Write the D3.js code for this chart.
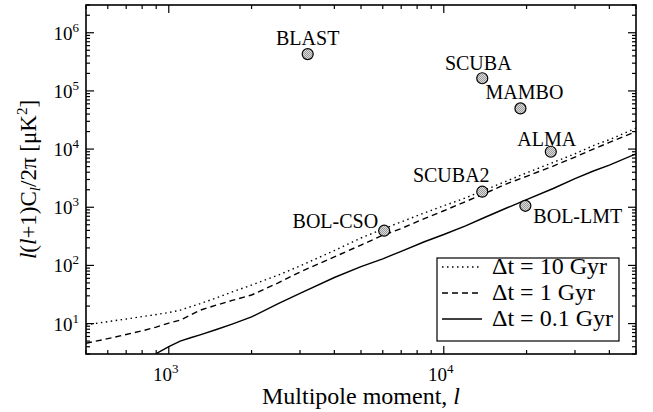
<!DOCTYPE html>
<html><head><meta charset="utf-8">
<script src="https://cdn.jsdelivr.net/npm/d3@7"></script>
<style>body{margin:0;background:#fff}svg{display:block}</style>
</head><body>
<svg id="c" width="653" height="412"></svg>
<script>
// ---- data ----
const multipoles = [500,600,700,800,900,1000,1100,1200,1300,1500,1700,2000,2500,3000,4000,5000,6000,7000,8500,10000,12000,14000,17000,20000,25000,30000,35000,40000,50000];
const dt10Gyr  = [9.5,10.8,12,13.2,14.3,15.5,17,19.5,22,28,35,46,68,98,180,296,420,560,800,1060,1450,1950,2850,3900,5900,8300,11500,14500,23000];
const dt1Gyr   = [4.6,5.5,6.5,7.5,8.7,10.2,11.5,14,17,21,25,31,50,77,140,224,330,430,640,870,1250,1700,2550,3400,5100,7300,10000,13000,20000];
const dt01Gyr  = [null,null,null,null,3.05,4.0,5.0,5.7,6.4,8,9.8,13,22,33,62,95,130,175,255,340,480,660,980,1350,2100,3100,4200,5300,8300];
const seriesNames = ["\u0394t = 10 Gyr","\u0394t = 1 Gyr","\u0394t = 0.1 Gyr"];
const instNames = ["BLAST","SCUBA","MAMBO","ALMA","SCUBA2","BOL-CSO","BOL-LMT"];
const instL     = [3200,13800,19000,24500,13800,6070,19800];
const instCl    = [4.3e5,1.65e5,5.0e4,9.0e3,1850,395,1060];
const xTickVals = [1e3,1e4];
const xTickExp  = ["3","4"];
const yTickVals = [1e1,1e2,1e3,1e4,1e5,1e6];
const yTickExp  = ["1","2","3","4","5","6"];

// ---- layout / style ----
const W=653,H=412, m={l:86,r:17,t:5,b:58};
const font="'Liberation Serif','Times New Roman',serif";
const dashes=["1.5,3.5","6,4",null];
// label placement relative to marker: [dx, dy, anchor]
const labelPos = {
  "BLAST":[0,-9,"middle"],"SCUBA":[-4,-8,"middle"],"MAMBO":[4,-9,"middle"],
  "ALMA":[-4,-6,"middle"],"SCUBA2":[-31,-10,"middle"],"BOL-CSO":[-6,-3,"end"],
  "BOL-LMT":[8,17,"start"]
};

const svg=d3.select("#c");
const x=d3.scaleLog().domain([500,5e4]).range([m.l,W-m.r]);
const y=d3.scaleLog().domain([3,3e6]).range([H-m.b,m.t]);

const defs=svg.append("defs");
defs.append("clipPath").attr("id","clip").append("rect")
  .attr("x",m.l).attr("y",m.t).attr("width",W-m.l-m.r).attr("height",H-m.t-m.b);
const pat=defs.append("pattern").attr("id","stip").attr("patternUnits","userSpaceOnUse")
  .attr("width",2).attr("height",2);
pat.append("rect").attr("width",2).attr("height",2).attr("fill","#dcdcdc");
pat.append("rect").attr("width",1).attr("height",1).attr("fill","#9a9a9a");
pat.append("rect").attr("x",1).attr("y",1).attr("width",1).attr("height",1).attr("fill","#9a9a9a");

// minor + major ticks, all four sides, inward
const xMinor=[], yMinor=[];
for(let e=2;e<=4;e++) for(let k=1;k<10;k++){const v=k*Math.pow(10,e); if(v>=500&&v<=5e4) xMinor.push(v);}
for(let e=0;e<=6;e++) for(let k=1;k<10;k++){const v=k*Math.pow(10,e); if(v>=3&&v<=3e6) yMinor.push(v);}
const g=svg.append("g");
const isMajor=v=>Math.abs(Math.log10(v)-Math.round(Math.log10(v)))<1e-9;
xMinor.forEach(v=>{
  const L=isMajor(v)?8:4;
  g.append("line").attr("x1",x(v)).attr("x2",x(v)).attr("y1",H-m.b).attr("y2",H-m.b-L);
  g.append("line").attr("x1",x(v)).attr("x2",x(v)).attr("y1",m.t).attr("y2",m.t+L);
});
yMinor.forEach(v=>{
  const L=isMajor(v)?8:4;
  g.append("line").attr("y1",y(v)).attr("y2",y(v)).attr("x1",m.l).attr("x2",m.l+L);
  g.append("line").attr("y1",y(v)).attr("y2",y(v)).attr("x1",W-m.r).attr("x2",W-m.r-L);
});
g.selectAll("line").attr("stroke","#000").attr("stroke-width",1.2);

// tick labels
xTickVals.forEach((v,i)=>{
  const t=svg.append("text").attr("x",x(v)-3).attr("y",H-m.b+27).attr("text-anchor","middle")
    .attr("font-family",font).attr("font-size",19);
  t.append("tspan").text("10");
  t.append("tspan").attr("dy",-8).attr("font-size",13).text(xTickExp[i]);
});
yTickVals.forEach((v,i)=>{
  const t=svg.append("text").attr("x",m.l-7).attr("y",y(v)+7).attr("text-anchor","end")
    .attr("font-family",font).attr("font-size",19);
  t.append("tspan").text("10");
  t.append("tspan").attr("dy",-8).attr("font-size",13).text(yTickExp[i]);
});

// axis titles
const xt=svg.append("text").attr("x",(m.l+W-m.r)/2).attr("y",H-8).attr("text-anchor","middle")
  .attr("font-family",font).attr("font-size",24);
xt.append("tspan").text("Multipole moment, ");
xt.append("tspan").attr("font-style","italic").text("l");

const yt=svg.append("text").attr("transform",`translate(36,${(m.t+H-m.b)/2}) rotate(-90)`)
  .attr("text-anchor","middle").attr("font-family",font).attr("font-size",23);
yt.append("tspan").attr("font-style","italic").text("l");
yt.append("tspan").text("(");
yt.append("tspan").attr("font-style","italic").text("l");
yt.append("tspan").text("+1)C");
yt.append("tspan").attr("font-style","italic").attr("font-size",15).attr("dy",4).text("l");
yt.append("tspan").attr("dy",-4).text("/2\u03c0 [\u03bcK");
yt.append("tspan").attr("font-size",15).attr("dy",-9).text("2");
yt.append("tspan").attr("dy",9).text("]");

// lines
const seriesVals=[dt10Gyr,dt1Gyr,dt01Gyr];
const line=d3.line().defined(d=>d[1]!=null).x(d=>x(d[0])).y(d=>y(d[1]));
const lg=svg.append("g").attr("clip-path","url(#clip)");
seriesVals.forEach((vals,i)=>{
  lg.append("path").datum(multipoles.map((l,j)=>[l,vals[j]]))
    .attr("d",line).attr("fill","none").attr("stroke","#000").attr("stroke-width",1.4)
    .attr("stroke-dasharray",dashes[i]);
});

// instrument markers
instNames.forEach((n,i)=>{
  const cx=x(instL[i]), cy=y(instCl[i]);
  svg.append("circle").attr("cx",cx).attr("cy",cy).attr("r",5.5)
    .attr("fill","url(#stip)").attr("stroke","#000").attr("stroke-width",1.2);
  const p=labelPos[n];
  svg.append("text").attr("x",cx+p[0]).attr("y",cy+p[1]).attr("text-anchor",p[2])
    .attr("font-family",font).attr("font-size",20).text(n);
});

// legend
const lgx=437, lgw=182, lgBottom=341, rowH=26;
const leg=svg.append("g");
leg.append("rect").attr("x",lgx).attr("y",lgBottom-rowH*3-5).attr("width",lgw).attr("height",rowH*3+5)
  .attr("fill","#fff").attr("stroke","#000").attr("stroke-width",1.2);
seriesNames.forEach((n,i)=>{
  const by=lgBottom-rowH*(2-i)-15;
  leg.append("line").attr("x1",lgx+5).attr("x2",lgx+45).attr("y1",by-7).attr("y2",by-7)
    .attr("stroke","#000").attr("stroke-width",1.4).attr("stroke-dasharray",dashes[i]);
  leg.append("text").attr("x",lgx+55).attr("y",by).attr("font-family",font).attr("font-size",24).text(n);
});

// frame
svg.append("rect").attr("x",m.l).attr("y",m.t).attr("width",W-m.l-m.r).attr("height",H-m.t-m.b)
  .attr("fill","none").attr("stroke","#000").attr("stroke-width",1.6);
</script>
</body></html>
